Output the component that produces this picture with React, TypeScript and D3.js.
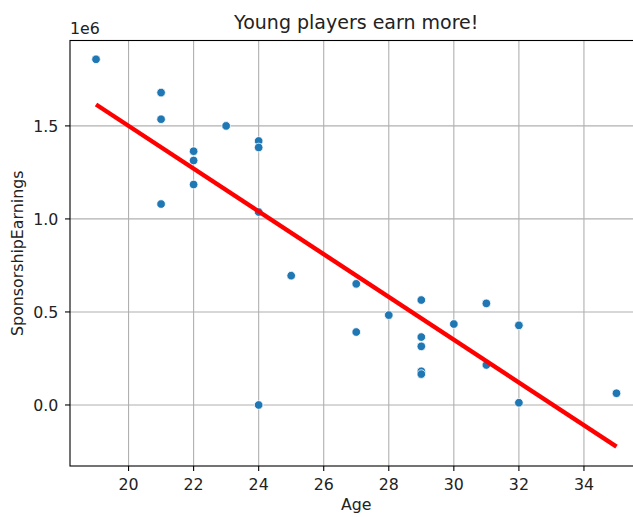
import React from "react";
import * as d3 from "d3";

const ages = [19, 21, 21, 21, 22, 22, 22, 23, 24, 24, 24, 24, 25, 27, 27, 28, 29, 29, 29, 29, 29, 30, 31, 31, 32, 32, 35];
const earnings = [1.858e6, 1.679e6, 1.536e6, 1.08e6, 1.364e6, 1.314e6, 1.185e6, 1.5e6, 1.419e6, 1.384e6, 1.037e6, 0.0, 0.695e6, 0.651e6, 0.392e6, 0.483e6, 0.564e6, 0.365e6, 0.315e6, 0.181e6, 0.166e6, 0.435e6, 0.546e6, 0.215e6, 0.428e6, 0.012e6, 0.063e6];
const fitX = [19, 35];
const fitY = [1.615e6, -0.224e6];
const xTicks = [20, 22, 24, 26, 28, 30, 32, 34];
const yTicks = [0, 0.5e6, 1.0e6, 1.5e6];

const W = 633, H = 517;
const L = 70, R = 642.5, T = 40.5, B = 466;
const FONT = "DejaVu Sans, sans-serif";
const FS = 15.8;

export default function App() {
  const x = d3.scaleLinear().domain([18.2, 35.8]).range([L, R]);
  const y = d3.scaleLinear().domain([-0.328e6, 1.959e6]).range([B, T]);
  const line = d3.line<number>().x((d, i) => x(fitX[i])).y((d) => y(d));
  const tickLen = 5;
  return (
    <svg width={W} height={H} style={{ position: "fixed", left: 0, top: 0, background: "#fff" }} fontFamily={FONT}>
      <rect x={0} y={0} width={W} height={H} fill="#fff" />
      {xTicks.map((t) => (
        <line key={"gx" + t} x1={x(t)} x2={x(t)} y1={T} y2={B} stroke="#b0b0b0" strokeWidth={1.1} />
      ))}
      {yTicks.map((t) => (
        <line key={"gy" + t} x1={L} x2={R} y1={y(t)} y2={y(t)} stroke="#b0b0b0" strokeWidth={1.1} />
      ))}
      {ages.map((a, i) => (
        <circle key={"p" + i} cx={x(a)} cy={y(earnings[i])} r={4.3} fill="#1f77b4" stroke="#fff" strokeWidth={0.8} />
      ))}
      <path d={line(fitY) || ""} fill="none" stroke="#ff0000" strokeWidth={4.4} />
      <rect x={L} y={T} width={R - L} height={B - T} fill="none" stroke="#000" strokeWidth={1.1} />
      {xTicks.map((t) => (
        <g key={"tx" + t}>
          <line x1={x(t)} x2={x(t)} y1={B} y2={B + tickLen} stroke="#000" strokeWidth={1.1} />
          <text x={x(t)} y={490} textAnchor="middle" fontSize={FS} fill="#222">{t}</text>
        </g>
      ))}
      {yTicks.map((t) => (
        <g key={"ty" + t}>
          <line x1={L} x2={L - tickLen} y1={y(t)} y2={y(t)} stroke="#000" strokeWidth={1.1} />
          <text x={58.3} y={y(t)} dy="0.36em" textAnchor="end" fontSize={FS} fill="#222">{(t / 1e6).toFixed(1)}</text>
        </g>
      ))}
      <text x={L} y={34.2} fontSize={FS} fill="#222">1e6</text>
      <text x={(L + R) / 2} y={29.3} textAnchor="middle" fontSize={19} fill="#222">Young players earn more!</text>
      <text x={(L + R) / 2} y={509.5} textAnchor="middle" fontSize={FS} fill="#222">Age</text>
      <text transform={`translate(22.5,${(T + B) / 2}) rotate(-90)`} textAnchor="middle" fontSize={FS} fill="#222">SponsorshipEarnings</text>
    </svg>
  );
}
